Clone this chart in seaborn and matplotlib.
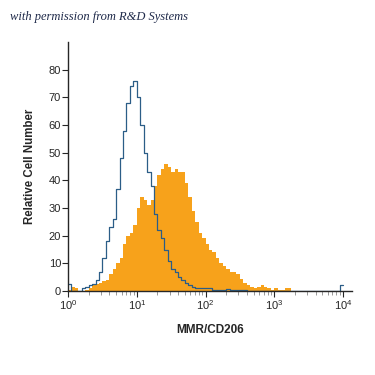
import numpy as np
import pandas as pd
import matplotlib

matplotlib.use("Agg")
import matplotlib.pyplot as plt
import seaborn as sns

# channel bins: 20 per decade over 10^0 .. 10^4
n_bins = 80
bin_centers = 10 ** ((np.arange(n_bins) + 0.5) / 20)

# isotype control (open blue outline)
isotype_counts = [
    2.5, 0, 0, 0, 1, 1.5, 2, 2.5, 4, 7,
    12, 18, 23, 26, 37, 48, 58, 68, 74, 76,
    70, 60, 50, 43, 38, 28, 22, 19, 15, 11,
    8, 7, 5, 4, 3, 2, 1.5, 1, 1, 1,
    1, 1, 0.5, 0.5, 0.5, 0.5, 0.8, 0.5, 0.5, 0.3,
    0.3, 0.3, 0, 0, 0, 0, 0, 0, 0, 0,
    0, 0, 0, 0, 0, 0, 0, 0, 0, 0,
    0, 0, 0, 0, 0, 0, 0, 0, 0, 2,
]

# MMR/CD206 stained cells (filled orange)
stained_counts = [
    0.5, 1.5, 1, 0, 0, 0.5, 1, 2, 2.5, 3,
    3.5, 4, 6, 8, 10, 12, 17, 20, 21, 24,
    30, 34, 33, 31, 33, 38, 42, 44, 46, 45,
    43, 44, 43, 43, 39, 34, 29, 25, 21, 19,
    17, 15, 14, 12, 10, 9, 8, 7, 7, 6,
    4.5, 3, 2, 1.5, 1, 1.5, 2, 1.5, 1, 0.5,
    1, 0.5, 0.5, 1, 1, 0, 0, 0, 0, 0,
    0, 0, 0, 0, 0, 0, 0, 0, 0, 0,
]

y_ticks = [0, 10, 20, 30, 40, 50, 60, 70, 80]

df = pd.DataFrame({
    "intensity": bin_centers,
    "isotype": isotype_counts,
    "stained": stained_counts,
})

sns.set_style("ticks")
plt.rcParams["font.family"] = ["Liberation Sans", "DejaVu Sans"]
plt.rcParams["mathtext.fontset"] = "custom"
plt.rcParams["mathtext.rm"] = "Liberation Sans"

fig = plt.figure(figsize=(3.75, 3.75), dpi=100)
ax = fig.add_axes([68 / 375, 1 - 291 / 375, (352 - 68) / 375, (291 - 42) / 375])

sns.histplot(data=df, x="intensity", weights="stained", bins=n_bins, binrange=(0, 4),
             log_scale=True, element="step", fill=True, color="#F7A21B", alpha=1,
             linewidth=0, ax=ax)
sns.histplot(data=df, x="intensity", weights="isotype", bins=n_bins, binrange=(0, 4),
             log_scale=True, element="step", fill=False, color="#2B5D87",
             linewidth=0.9, ax=ax)

ax.set_xlim(1, 10 ** 4.13)
ax.set_ylim(0, 90)
ax.set_yticks(y_ticks)
ax.set_xticks([1, 10, 100, 1000, 10000])
sns.despine(ax=ax)
ax.spines["left"].set_linewidth(1.0)
ax.spines["bottom"].set_linewidth(1.0)
ax.tick_params(axis="both", which="major", length=4, width=0.8, labelsize=8, pad=1)
ax.tick_params(axis="x", which="minor", length=3, width=0.6, color="#888888")
ax.set_xlabel("MMR/CD206", fontsize=8.5, fontweight="bold", labelpad=9)
ax.set_ylabel("Relative Cell Number", fontsize=8.3, fontweight="bold", labelpad=9)

fig.text(10 / 375, 1 - 17 / 375, "with permission from R&D Systems",
         fontsize=9, style="italic", family="Liberation Serif", color="#1f2a4a",
         va="center", ha="left")

fig.savefig("out.png", dpi=100)
